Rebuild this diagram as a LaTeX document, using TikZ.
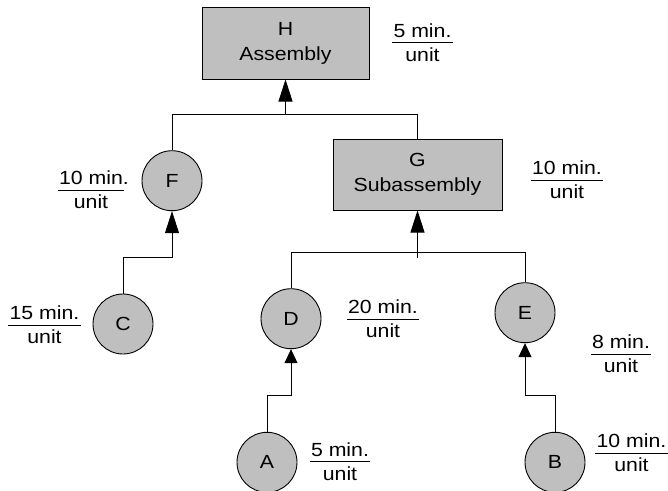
\documentclass[tikz,border=0pt]{standalone}
\usepackage{fontspec}
\setmainfont{Liberation Sans}[FakeStretch=1.12]
\usetikzlibrary{arrows.meta}

\tikzset{
  assy/.style={draw, line width=1pt, fill=black!25, minimum width=167pt,
    minimum height=72pt, align=center, font=\fontsize{19}{25}\selectfont},
  part/.style={circle, draw, line width=0.9pt, fill=black!25,
    minimum size=60pt, inner sep=0pt, font=\fontsize{19}{23}\selectfont},
  rate/.style={anchor=base, inner xsep=1pt, inner ysep=0pt,
    font=\fontsize{19}{23}\selectfont},
  link/.style={line width=0.8pt},
  feed/.style={link, -{Triangle[length=22pt,width=14pt]}},
  feedsmall/.style={link, -{Triangle[length=14pt,width=13pt]}}
}

\begin{document}
\begin{tikzpicture}[x=1pt, y=-1pt]
  \useasboundingbox (0,0) rectangle (668,490);
  \clip (0,0) rectangle (668,490);

  \node[assy] (H) at (285.5,43) {H\\Assembly};
  \node[assy, minimum width=169pt, minimum height=71pt] (G) at (417.5,174.5)
    {G\\Subassembly};
  \node[part] (F) at (172,180.7) {F};
  \node[part] (C) at (123,324) {C};
  \node[part] (D) at (291,318.7) {D};
  \node[part] (E) at (525,312.7) {E};
  \node[part] (A) at (267,462.3) {A};
  \node[part] (B) at (555,462.3) {B};

  \coordinate (hj) at (285.5,114.5);
  \draw[link] (F.north) |- (hj) -| (G.north);
  \draw[feed] (hj) -- (H.south);

  \coordinate (gj) at (417.5,252.7);
  \draw[link] (D.north) |- (gj) -| (E.north);
  \draw[feed] ([yshift=-5.5pt]gj) -- (G.south);

  \draw[feed] (C.north) -- ++(0,-35.7) -| (F.south);
  \draw[feedsmall] (A.north) -- ++(0,-36.6) -| (D.south);
  \draw[feedsmall] (B.north) -- ++(0,-36.6) -| (E.south);

  \foreach \x/\y/\t in {422.5/42.7/5 min., 567/180/10 min.,
    91/190/10 min\rlap{.}, 44.5/325/15 min., 383/319/20 min.,
    621/354.3/8 min., 340/461.7/5 min., 631.5/453.3/10 min.} {%
    \node[rate] (num) at (\x,\y-5.5) {\t};
    \draw[link] ([yshift=-5.5pt]num.base west) -- ([yshift=-5.5pt]num.base east);
    \node[rate] (den) at ([yshift=-24pt]num.base) {unit};
  }
\end{tikzpicture}
\end{document}
